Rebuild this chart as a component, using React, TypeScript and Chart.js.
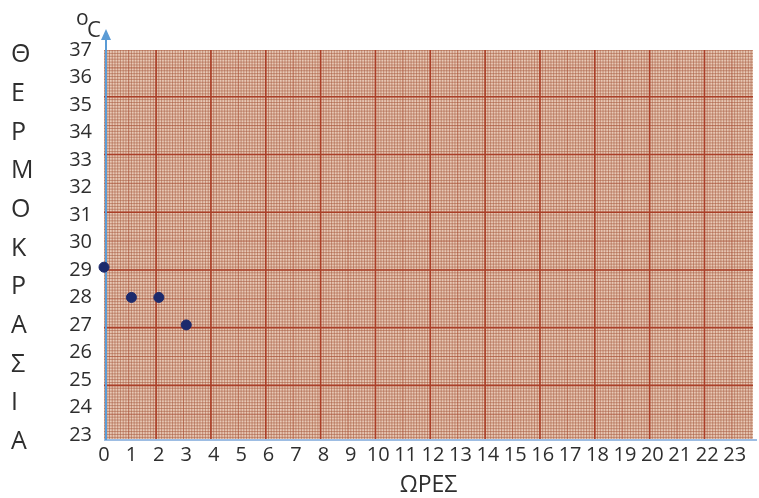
import React, { useEffect, useRef } from 'react';
import { Chart, registerables } from 'chart.js';

Chart.register(...registerables);

// ---- data ----
const hours = [0, 1, 2, 3];
const temperatures = [29.1, 28, 28, 27];
const xTicks = [0, 1, 2, 3, 4, 5, 6, 7, 8, 9, 10, 11, 12, 13, 14, 15, 16, 17, 18, 19, 20, 21, 22, 23];
const yTicks = [23, 24, 25, 26, 27, 28, 29, 30, 31, 32, 33, 34, 35, 36, 37];
const yTitleLetters = ['Θ', 'Ε', 'Ρ', 'Μ', 'Ο', 'Κ', 'Ρ', 'Α', 'Σ', 'Ι', 'Α'];
const xTitle = 'ΩΡΕΣ';
const unitSup = 'o';
const unitMain = 'C';

// graph-paper ruling (decoration, in axis units)
const paperXStart = 1.9;
const paperXStep = 2;
const paperYStart = 24.8;
const paperYStep = 2.1;
const paperSub = 20;

const FONT = '"Open Sans", "Noto Sans", sans-serif';

const paperPlugin = {
  id: 'paper',
  beforeDatasetsDraw(chart: any) {
    const { ctx, chartArea: a, scales } = chart;
    const xs = scales.x;
    const ys = scales.y;
    ctx.save();
    ctx.beginPath();
    ctx.rect(a.left, a.top, a.right - a.left, a.bottom - a.top);
    ctx.clip();
    ctx.fillStyle = '#e8c9b6';
    ctx.fillRect(a.left, a.top, a.right - a.left, a.bottom - a.top);

    // minor lines
    ctx.lineWidth = 1;
    ctx.strokeStyle = 'rgba(165, 90, 62, 0.55)';
    ctx.beginPath();
    const xMinor = paperXStep / paperSub;
    for (let v = paperXStart - paperXStep * 2; v <= xs.max + xMinor; v += xMinor) {
      const px = xs.getPixelForValue(v);
      if (px < a.left - 1 || px > a.right + 1) continue;
      ctx.moveTo(px, a.top);
      ctx.lineTo(px, a.bottom);
    }
    const yMinor = paperYStep / paperSub;
    for (let v = paperYStart - paperYStep * 2; v <= ys.max + yMinor; v += yMinor) {
      const py = ys.getPixelForValue(v);
      if (py < a.top - 1 || py > a.bottom + 1) continue;
      ctx.moveTo(a.left, py);
      ctx.lineTo(a.right, py);
    }
    ctx.stroke();

    // half lines
    ctx.strokeStyle = 'rgba(170, 75, 50, 0.4)';
    ctx.beginPath();
    for (let v = paperXStart - paperXStep; v <= xs.max; v += paperXStep) {
      const px = xs.getPixelForValue(v + paperXStep / 2);
      ctx.moveTo(px, a.top);
      ctx.lineTo(px, a.bottom);
    }
    for (let v = paperYStart - paperYStep; v <= ys.max; v += paperYStep) {
      const py = ys.getPixelForValue(v + paperYStep / 2);
      ctx.moveTo(a.left, py);
      ctx.lineTo(a.right, py);
    }
    ctx.stroke();

    // major lines
    ctx.strokeStyle = '#aa3f28';
    ctx.lineWidth = 1.6;
    ctx.beginPath();
    for (let v = paperXStart; v <= xs.max; v += paperXStep) {
      const px = xs.getPixelForValue(v);
      ctx.moveTo(px, a.top);
      ctx.lineTo(px, a.bottom);
    }
    for (let v = paperYStart; v <= ys.max; v += paperYStep) {
      const py = ys.getPixelForValue(v);
      ctx.moveTo(a.left, py);
      ctx.lineTo(a.right, py);
    }
    ctx.stroke();
    ctx.restore();

    // blue axes
    ctx.save();
    ctx.strokeStyle = '#9dbde3';
    ctx.lineWidth = 2;
    ctx.beginPath();
    ctx.moveTo(a.left, a.bottom + 1);
    ctx.lineTo(chart.width - 2, a.bottom + 1);
    ctx.stroke();
    const ax = a.left + 2;
    ctx.strokeStyle = '#5b9bd5';
    ctx.lineWidth = 2;
    ctx.beginPath();
    ctx.moveTo(ax, a.bottom + 1);
    ctx.lineTo(ax, a.top - 12);
    ctx.stroke();
    ctx.fillStyle = '#5b9bd5';
    ctx.beginPath();
    ctx.moveTo(ax, a.top - 21);
    ctx.lineTo(ax - 5, a.top - 10);
    ctx.lineTo(ax + 5, a.top - 10);
    ctx.closePath();
    ctx.fill();
    ctx.restore();
  },
  afterDraw(chart: any) {
    const { ctx, chartArea: a } = chart;
    ctx.save();
    ctx.fillStyle = '#2e2e2e';
    ctx.textBaseline = 'middle';
    ctx.textAlign = 'left';
    ctx.font = `25px ${FONT}`;
    yTitleLetters.forEach((ch, i) => {
      ctx.fillText(ch, 11, 55 + i * 38.7);
    });
    ctx.textAlign = 'center';
    ctx.font = `23px ${FONT}`;
    ctx.fillText(xTitle, (a.left + a.right) / 2, 485);
    ctx.textAlign = 'left';
    ctx.textBaseline = 'alphabetic';
    ctx.font = `21px ${FONT}`;
    ctx.fillText(unitSup, 76, 25);
    ctx.font = `22px ${FONT}`;
    ctx.fillText(unitMain, 87, 37);
    ctx.restore();
  },
};

export default function App() {
  const ref = useRef<HTMLCanvasElement | null>(null);
  useEffect(() => {
    if (!ref.current) return;
    const chart = new Chart(ref.current, {
      type: 'scatter',
      data: {
        datasets: [
          {
            data: hours.map((h, i) => ({ x: h, y: temperatures[i] })),
            backgroundColor: '#1c2a6c',
            borderColor: '#1c2a6c',
            pointRadius: 5,
            pointHoverRadius: 5,
            clip: false as any,
          },
        ],
      },
      options: {
        animation: false,
        responsive: true,
        maintainAspectRatio: false,
        layout: { padding: { top: 50, right: 4, left: 0, bottom: 0 } },
        plugins: { legend: { display: false }, tooltip: { enabled: false } },
        scales: {
          x: {
            type: 'linear',
            min: 0,
            max: 23.67,
            afterBuildTicks: (s: any) => {
              s.ticks = xTicks.map((v) => ({ value: v }));
            },
            afterFit: (s: any) => {
              s.height = 59;
            },
            grid: { display: false, drawTicks: false },
            border: { display: false },
            ticks: {
              autoSkip: false,
              maxRotation: 0,
              padding: 4,
              color: '#2e2e2e',
              font: { family: FONT, size: 20 },
            },
          },
          y: {
            type: 'linear',
            min: 22.85,
            max: 37,
            afterBuildTicks: (s: any) => {
              s.ticks = yTicks.map((v) => ({ value: v }));
            },
            afterFit: (s: any) => {
              s.width = 104;
            },
            grid: { display: false, drawTicks: false },
            border: { display: false },
            ticks: {
              autoSkip: false,
              padding: 12,
              color: '#2e2e2e',
              font: { family: FONT, size: 20 },
            },
          },
        },
      },
      plugins: [paperPlugin],
    });
    return () => chart.destroy();
  }, []);
  return (
    <div style={{ position: 'absolute', left: 0, top: 0, width: 759, height: 498, background: '#ffffff' }}>
      <canvas ref={ref} />
    </div>
  );
}
